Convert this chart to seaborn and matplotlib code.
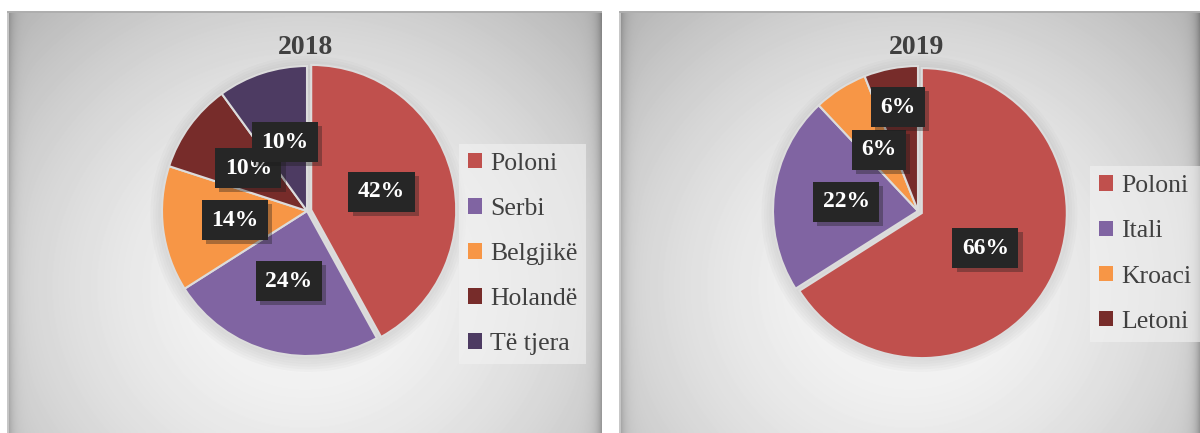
import numpy as np
import matplotlib.pyplot as plt
import matplotlib.patheffects as pe
from matplotlib.patches import Patch, Circle
import seaborn as sns

sns.set_theme(style='white')
plt.rcParams['font.family'] = ['Liberation Serif', 'DejaVu Serif']

# data
year_2018 = '2018'
countries_2018 = ['Poloni', 'Serbi', 'Belgjikë', 'Holandë', 'Të tjera']
shares_2018 = [42, 24, 14, 10, 10]

year_2019 = '2019'
countries_2019 = ['Poloni', 'Itali', 'Kroaci', 'Letoni']
shares_2019 = [66, 22, 6, 6]

palette = sns.color_palette(['#C0504D', '#8064A2', '#F79646', '#772C2A', '#4D3B62'])

W, H = 1200, 433
R = 145  # pie radius in pixels
fig = plt.figure(figsize=(W / 100, H / 100), dpi=100)
fig.patch.set_facecolor('white')


def px_axes(x, y, w, h):
    # x, y = top-left corner in pixels
    return fig.add_axes([x / W, 1 - (y + h) / H, w / W, h / H])


def panel_background(x0, x1, y0):
    w, h = x1 - x0, H - y0
    ax = px_axes(x0, y0, w, h)
    yy, xx = np.mgrid[0:h, 0:w]
    cx, cy = w * 0.5, h * 0.65
    d = np.sqrt(((xx - cx) / (w * 0.6)) ** 2 + ((yy - cy) / (h * 0.78)) ** 2)
    g = 0.97 - 0.2 * np.clip(d, 0, 1.3) ** 1.7
    edge = np.minimum(xx, w - 1 - xx)
    g = g - 0.2 * np.exp(-edge / 5.0)
    g[:, :2] = 0.78
    g[:2, :] = 0.68
    ax.imshow(g, cmap='gray', vmin=0, vmax=1, aspect='auto', interpolation='bilinear')
    ax.set_axis_off()


def draw_pie(cx, cy, title, labels, values, label_dist, legend_x):
    L = 1.25
    S = 2 * L * R
    ax = px_axes(cx - S / 2, cy - S / 2, S, S)
    colors = palette[:len(values)]
    explode = [0.03] + [0] * (len(values) - 1)

    # soft halo behind the pie
    for k in range(6):
        ax.add_patch(Circle((0.01, -0.02), 1.0 + 0.018 * k, color='k', alpha=0.02, lw=0, zorder=0))

    wedges, _, autotexts = ax.pie(
        values, colors=colors, startangle=90, counterclock=False, explode=explode,
        autopct='%1.0f%%', pctdistance=0.5,
        wedgeprops=dict(edgecolor='#dcdcdc', linewidth=1.5),
        textprops=dict(color='white', fontsize=17, fontweight='bold'))
    ax.set_xlim(-L, L)
    ax.set_ylim(-L, L)
    ax.set_axis_off()

    for w, t, dist in zip(wedges, autotexts, label_dist):
        theta = np.deg2rad((w.theta1 + w.theta2) / 2)
        t.set_position((w.center[0] + dist * w.r * np.cos(theta),
                        w.center[1] + dist * w.r * np.sin(theta)))
        t.set_bbox(dict(boxstyle='square,pad=0.4', fc='#262626', ec='none'))
        t.get_bbox_patch().set_path_effects(
            [pe.SimplePatchShadow(offset=(3, -3), shadow_rgbFace='k', alpha=0.35), pe.Normal()])

    ax.text(-0.01, 1.13, title, ha='center', va='center', fontsize=20,
            fontweight='bold', color='#404040')

    handles = [Patch(facecolor=c, edgecolor='none') for c in colors]
    ax.legend(handles, labels, loc='center left',
              bbox_to_anchor=(legend_x / W, 1 - 254 / H), bbox_transform=fig.transFigure,
              frameon=True, facecolor='#f2f2f2', edgecolor='none', framealpha=0.6,
              fancybox=False, fontsize=18.5, labelcolor='#404040',
              handlelength=0.55, handleheight=0.55, handletextpad=0.3,
              labelspacing=0.9, borderpad=0.35, borderaxespad=0)


panel_background(7, 602, 11)
panel_background(619, 1200, 11)

draw_pie(307, 211, year_2018, countries_2018, shares_2018, [0.5] * 5, 459)
draw_pie(918, 211, year_2019, countries_2019, shares_2019, [0.5, 0.5, 0.5, 0.73], 1090)

fig.savefig('out.png', dpi=100)
